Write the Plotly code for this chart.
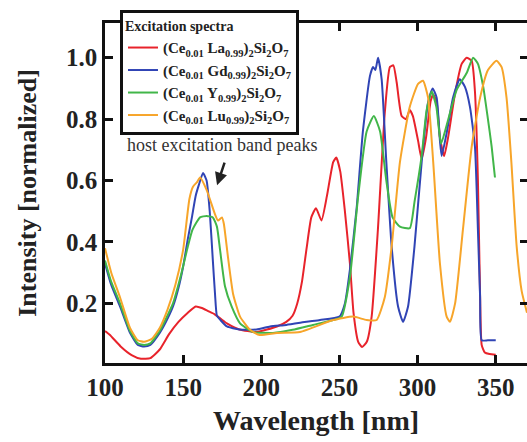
import plotly.graph_objects as go

# ---- data ----
x_la = [100,103,110,117,123,129,135,141,147,153,158,162,166,170,174,178,186,197,210,216,
        220,223,226,229,232,235,238.5,242,246,248,250.5,253.5,256.7,259,262,264.5,267.5,270.6,274.6,279,
        282.3,284.5,286.6,289.8,292.6,295,297,300.3,302.6,305.4,308.4,310,312.2,314.3,317,319.5,324,328.2,331.4,334.6,
        336.7,338.6,340,341,343,346,350]
y_la = [0.11,0.098,0.06,0.032,0.02,0.022,0.05,0.1,0.14,0.17,0.19,0.185,0.175,0.165,0.15,0.135,0.115,0.107,0.125,0.14,
        0.16,0.2,0.27,0.38,0.48,0.51,0.47,0.55,0.66,0.675,0.63,0.5,0.33,0.17,0.075,0.058,0.075,0.157,0.44,0.82,
        0.97,0.975,0.92,0.81,0.8,0.83,0.81,0.73,0.67,0.74,0.86,0.88,0.855,0.74,0.68,0.74,0.885,0.98,1.0,0.99,
        0.89,0.6,0.22,0.065,0.04,0.035,0.033]

x_gd = [100,104,109.6,116,121,125,129,135,139,143.5,147,150,153,155.6,158,160,162.7,165,167,169,
        170.4,171.6,174,178,186,197,205.6,216,229,237.6,250,253.5,256.7,261,265,269.5,271.5,273,274.7,277,
        280,283.4,287.5,290.7,293.9,298,302.6,306.7,309.6,312.2,314.3,315.4,318.6,322.7,327,330.3,333.5,336.7,338.6,340,
        341,345,350]
y_gd = [0.33,0.26,0.19,0.104,0.065,0.06,0.065,0.104,0.14,0.19,0.25,0.32,0.41,0.48,0.55,0.585,0.625,0.6,0.5,0.34,
        0.23,0.16,0.145,0.125,0.115,0.115,0.125,0.13,0.14,0.146,0.157,0.2,0.31,0.51,0.76,0.94,0.97,0.96,1.0,0.93,
        0.66,0.385,0.19,0.14,0.19,0.385,0.66,0.855,0.9,0.87,0.73,0.68,0.755,0.87,0.93,0.905,0.84,0.71,0.44,0.22,
        0.08,0.08,0.08]

x_y = [100,104,109.6,116,121,125,129,135,139,143.5,148,153,156,160.8,165,169,171.6,173.6,176.8,181,
       186.4,194.7,207.5,220,233,246,251.4,256.7,262,267.4,272,276,280,284,288.7,295,298,302.6,305.8,309,
       312,315,318.6,325,331.4,335.5,338.6,342,345,347.4,349.5]
y_y = [0.34,0.27,0.2,0.11,0.07,0.065,0.07,0.11,0.15,0.2,0.28,0.385,0.44,0.48,0.485,0.48,0.45,0.375,0.255,0.19,
       0.135,0.107,0.104,0.114,0.13,0.146,0.157,0.286,0.55,0.76,0.81,0.76,0.6,0.48,0.45,0.445,0.53,0.68,0.83,0.89,
       0.84,0.72,0.78,0.895,0.95,1.0,0.98,0.905,0.8,0.71,0.61]

x_lu = [100,104,109.6,116,121,125,130,135,140,145,150,154,156.3,158.9,160.8,165,170.4,172.3,174.8,176,
        178.7,182,186.4,192.8,199,210,224.8,246,258.7,267.4,273.8,279,283.4,288.7,295,300.3,303.5,306.7,310,314.3,
        318.6,320.7,324,329,334.6,340,345,350.5,353.7,356.9,360,363.4,366.6,370]
y_lu = [0.38,0.3,0.22,0.12,0.08,0.075,0.085,0.12,0.18,0.26,0.375,0.54,0.58,0.595,0.61,0.57,0.49,0.47,0.48,0.46,
        0.35,0.23,0.157,0.114,0.097,0.104,0.107,0.146,0.157,0.146,0.146,0.22,0.385,0.66,0.84,0.915,0.925,0.87,0.66,0.33,
        0.157,0.14,0.2,0.44,0.71,0.87,0.96,0.99,0.97,0.87,0.66,0.385,0.24,0.17]

names = [
    "(Ce<sub>0.01</sub> La<sub>0.99</sub>)<sub>2</sub>Si<sub>2</sub>O<sub>7</sub>",
    "(Ce<sub>0.01</sub> Gd<sub>0.99</sub>)<sub>2</sub>Si<sub>2</sub>O<sub>7</sub>",
    "(Ce<sub>0.01</sub> Y<sub>0.99</sub>)<sub>2</sub>Si<sub>2</sub>O<sub>7</sub>",
    "(Ce<sub>0.01</sub> Lu<sub>0.99</sub>)<sub>2</sub>Si<sub>2</sub>O<sub>7</sub>",
]
colors = ["#e8232b", "#3044b5", "#41b649", "#f7a52a"]
x_ticks = [100, 150, 200, 250, 300, 350]
y_ticks = [0.2, 0.4, 0.6, 0.8, 1.0]
y_ticklabels = ["0.2", "0.4", "0.6", "0.8", "1.0"]

SERIF = "Liberation Serif"

fig = go.Figure()
for xs, ys, nm, c in zip([x_la, x_gd, x_y, x_lu], [y_la, y_gd, y_y, y_lu], names, colors):
    fig.add_trace(go.Scatter(x=xs, y=ys, mode="lines", name=nm,
                             line=dict(color=c, width=2, shape="spline", smoothing=0.5)))

# helper trace so the right-hand tick axis is drawn
fig.add_trace(go.Scatter(x=[None], y=[None], yaxis="y2", showlegend=False, hoverinfo="skip"))

fig.update_layout(
    width=527, height=442,
    margin=dict(l=105, r=0, t=23, b=79),
    paper_bgcolor="white", plot_bgcolor="white",
    font=dict(family=SERIF, color="#222"),
    xaxis=dict(range=[100, 370], tickvals=x_ticks, ticks="inside", ticklen=8, tickwidth=2.5,
               tickcolor="#111", showline=True, linewidth=2.5, linecolor="#111", mirror="ticks",
               showgrid=False, zeroline=False,
               tickfont=dict(family=SERIF, size=25, weight="bold", color="#222"),
               ticklabelstandoff=0,
               title=dict(text="Wavelength [nm]", standoff=11,
                          font=dict(family=SERIF, size=28, weight="bold", color="#222"))),
    yaxis=dict(range=[0.006, 1.113], tickvals=y_ticks, ticktext=y_ticklabels, ticks="inside",
               ticklen=8, tickwidth=2.5, tickcolor="#111", showline=True, linewidth=2.5,
               linecolor="#111", mirror=False, showgrid=False, zeroline=False,
               tickfont=dict(family=SERIF, size=25, weight="bold", color="#222"),
               title=dict(text="Intensity [normalized]", standoff=22,
                          font=dict(family=SERIF, size=26, weight="bold", color="#222"))),
    yaxis2=dict(range=[0.006, 1.113], tickvals=y_ticks, overlaying="y", side="right",
                ticks="inside", ticklen=7, tickwidth=2.5, tickcolor="#111", showline=False,
                showticklabels=False, showgrid=False, zeroline=False),
    legend=dict(x=0.0355, y=1.038, xanchor="left", yanchor="top",
                bgcolor="white", bordercolor="#111", borderwidth=3,
                font=dict(family=SERIF, size=15, weight="bold", color="#222"),
                title=dict(text="Excitation spectra",
                           font=dict(family=SERIF, size=14, weight="bold", color="#222")),
                tracegroupgap=0, itemwidth=30),
    showlegend=True,
    annotations=[
        dict(x=175, y=0.716, xref="x", yref="y", text="host excitation band peaks",
             showarrow=False, font=dict(family=SERIF, size=18, color="#333")),
        dict(x=171.7, y=0.585, xref="x", yref="y", text="", showarrow=True,
             ax=8, ay=-24, arrowhead=2, arrowsize=1, arrowwidth=2.5, arrowcolor="#222"),
    ],
)

fig.write_html("out.html")
